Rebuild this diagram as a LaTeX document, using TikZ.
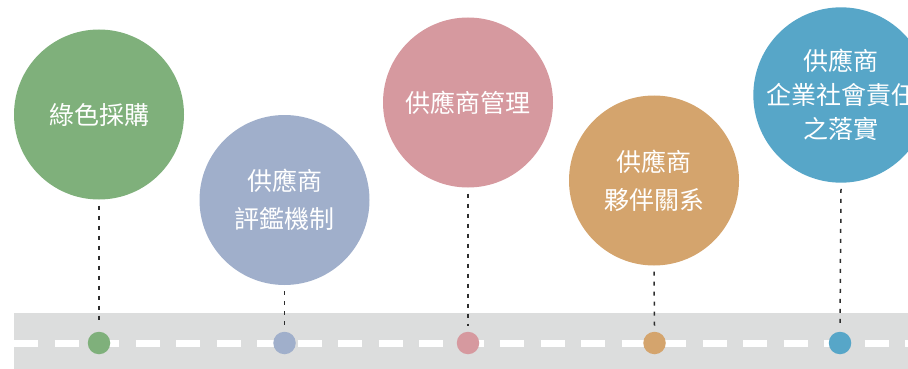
\documentclass[tikz,border=0pt]{standalone}
\usepackage{fontspec}
\newfontfamily\cjk{Noto Sans CJK TC}
\definecolor{cgreen}{HTML}{7FB07B}
\definecolor{cslate}{HTML}{A0AFCB}
\definecolor{cpink}{HTML}{D6999F}
\definecolor{corange}{HTML}{D4A46D}
\definecolor{cblue}{HTML}{57A6C8}
\definecolor{croad}{HTML}{DCDDDD}
\definecolor{cline}{HTML}{2E2E2E}
\tikzset{
  bigcirc/.style={circle, minimum size=170pt, inner sep=0pt, text=white, align=center, font=\cjk\fontsize{25}{38}\selectfont},
  dotc/.style={circle, minimum size=22.5pt, inner sep=0pt},
  conn/.style={draw=cline, line width=1.5pt, dash pattern=on 4pt off 6pt}
}
\begin{document}
\begin{tikzpicture}[x=1pt,y=-1pt]
\useasboundingbox (0,0) rectangle (908,369);
\clip (0,0) rectangle (908,369);
% road
\fill[croad] (14,313) rectangle (908,369);
\draw[white, line width=7pt, dash pattern=on 24pt off 16.5pt] (14,343) -- (908,343);
% big circles
\node[bigcirc, fill=cgreen]  (c1) at (99,114.5) {綠色採購};
\node[bigcirc, fill=cslate]  (c2) at (284.5,200) {供應商\\評鑑機制};
\node[bigcirc, fill=cpink]   (c3) at (468,102.5) {供應商管理};
\node[bigcirc, fill=corange] (c4) at (654,180.5) {供應商\\夥伴關系};
\node[bigcirc, fill=cblue, font=\cjk\fontsize{25}{34}\selectfont] (c5) at (841,95) {供應商\\企業社會責任\\之落實};
% dots
\node[dotc, fill=cgreen]  (d1) at (99,343) {};
\node[dotc, fill=cslate]  (d2) at (284.5,343) {};
\node[dotc, fill=cpink]   (d3) at (468,343) {};
\node[dotc, fill=corange] (d4) at (654.5,343) {};
\node[dotc, fill=cblue]   (d5) at (840,343) {};
% connectors
\foreach \i in {1,...,5}{
  \draw[conn] ([yshift=-6pt]c\i.south) -- ([yshift=6pt]d\i.north);
}
\end{tikzpicture}
\end{document}
